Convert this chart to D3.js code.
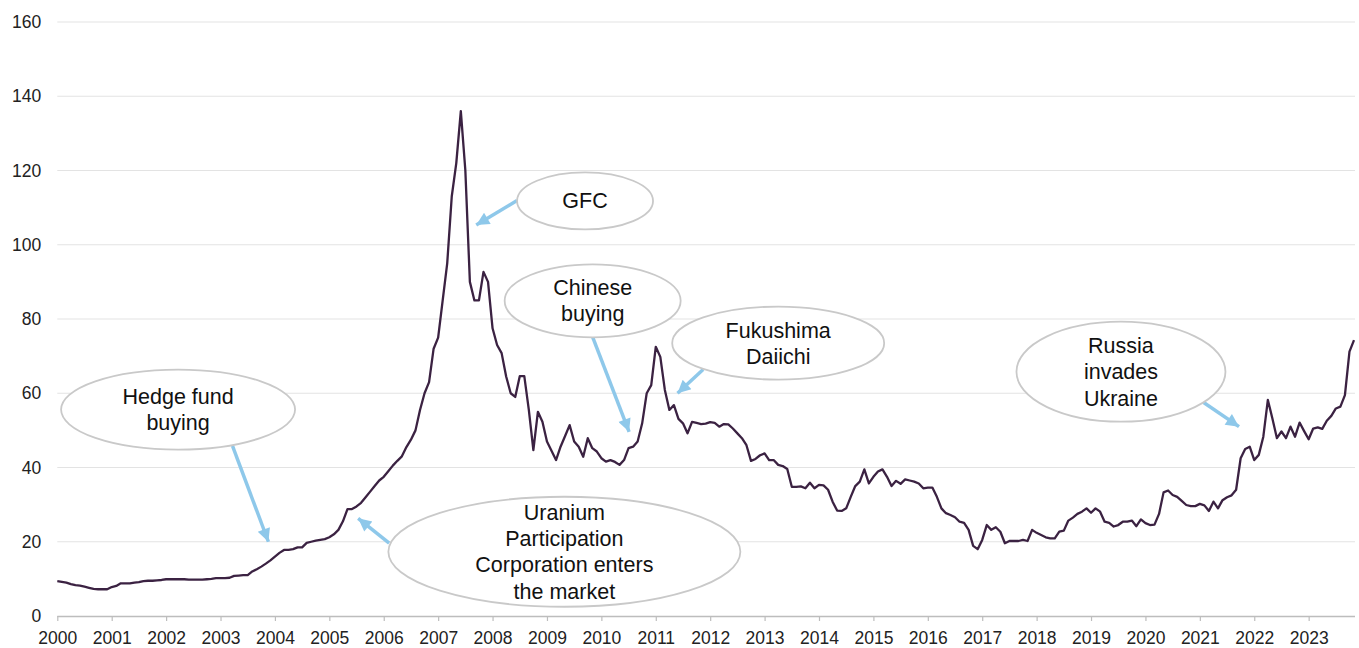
<!DOCTYPE html>
<html>
<head>
<meta charset="utf-8">
<script src="https://cdn.jsdelivr.net/npm/d3@7"></script>
<style>
  body { margin: 0; background: #fff; }
  svg text { font-family: "Liberation Sans", Arial, sans-serif; }
</style>
</head>
<body>
<svg id="chart" width="1359" height="648"></svg>
<script>
// monthly uranium spot price (US$/lb), Jan 2000 onwards
const startYear = 2000;
const prices = [
  9.4, 9.2, 9.0, 8.6, 8.3, 8.2, 7.9, 7.6, 7.3, 7.2, 7.2, 7.2,
  7.8, 8.1, 8.8, 8.8, 8.8, 9.0, 9.1, 9.4, 9.5, 9.5, 9.6, 9.7,
  9.9, 9.9, 9.9, 9.9, 9.9, 9.8, 9.8, 9.8, 9.8, 9.9, 10.0, 10.2,
  10.2, 10.2, 10.3, 10.8, 10.9, 11.0, 11.0, 12.0, 12.6, 13.3, 14.1, 15.0,
  16.0, 17.0, 17.8, 17.8, 18.0, 18.5, 18.5, 19.7, 20.0, 20.3, 20.5, 20.7,
  21.2, 22.0, 23.2, 25.5, 28.8, 28.8, 29.5, 30.5, 32.0, 33.5, 35.0, 36.5,
  37.5, 39.0, 40.5, 41.8, 43.0, 45.5, 47.5, 50.0, 55.5, 60.0, 63.0, 72.0,
  75, 85, 95, 113, 122, 136, 120, 90, 85, 85, 92.7, 90,
  77.5, 73, 70.8, 64.5, 60, 59, 64.6, 64.6, 55.5, 44.7, 55, 52.3,
  47, 44.5, 42, 45.6, 48.5, 51.4, 47, 45.6, 42.9, 47.9, 45.2, 44.3,
  42.5, 41.6, 42, 41.5, 40.7, 42, 45.2, 45.6, 47, 51.9, 60, 62.2,
  72.5, 69.8, 60.9, 55.5, 56.8, 53.1, 51.9, 49.2, 52.3, 52, 51.7, 51.8,
  52.2, 52, 51, 51.7, 51.6, 50.5, 49.2, 47.9, 46, 41.8, 42.3, 43.3,
  43.8, 42, 42, 40.7, 40.4, 39.6, 34.8, 34.8, 34.9, 34.4, 35.9, 34.4,
  35.3, 35.2, 34, 30.8, 28.4, 28.3, 29, 32.1, 35, 36.2, 39.5, 35.7,
  37.5, 38.9, 39.5, 37.5, 35, 36.4, 35.6, 36.8, 36.5, 36.2, 35.7, 34.4,
  34.6, 34.6, 32.1, 29, 27.7, 27.2, 26.6, 25.4, 25.1, 23.2, 18.9, 18.0,
  20.5, 24.5, 23.2, 23.9, 22.7, 19.6, 20.2, 20.2, 20.2, 20.5, 20.2, 23.2,
  22.4, 21.8, 21.2, 20.9, 20.9, 22.7, 23, 25.7, 26.5, 27.5, 28.1, 29,
  27.8, 29, 28.1, 25.4, 25.1, 24.1, 24.5, 25.4, 25.4, 25.7, 24.2, 26,
  25, 24.5, 24.6, 27.5, 33.3, 33.8, 32.6, 32.1, 31, 29.9, 29.6, 29.6,
  30.2, 29.8, 28.3, 30.8, 29, 31.2, 32, 32.5, 34, 42.5, 45, 45.6,
  42, 43.4, 48.3, 58.2, 53.2, 47.9, 49.7, 47.9, 51, 48.3, 52.1, 49.8,
  47.6, 50.5, 50.8, 50.4, 52.6, 53.9, 55.9, 56.4, 59.5, 71.2, 74.3
];
const yearTicks = d3.range(2000, 2024);
const valueTicks = [0, 20, 40, 60, 80, 100, 120, 140, 160];

// callouts: centre and arrow ends in data units (year, price)
const notes = [
  { lines: ["Hedge fund", "buying"], cx: 2002.22, cy: 55.6, rx: 117, ry: 40, from: [2003.22, 45.8], to: [2003.88, 20.0] },
  { lines: ["GFC"], cx: 2009.70, cy: 111.8, rx: 68, ry: 28.5, from: [2008.45, 111.9], to: [2007.70, 105.3] },
  { lines: ["Chinese", "buying"], cx: 2009.84, cy: 84.9, rx: 88, ry: 36.5, from: [2009.84, 75.1], to: [2010.51, 49.6] },
  { lines: ["Fukushima", "Daiichi"], cx: 2013.25, cy: 73.5, rx: 106, ry: 36.5, from: [2011.87, 66.4], to: [2011.40, 60.0] },
  { lines: ["Uranium", "Participation", "Corporation enters", "the market"], cx: 2009.32, cy: 17.3, rx: 176, ry: 55, from: [2006.10, 19.6], to: [2005.53, 26.3] },
  { lines: ["Russia", "invades", "Ukraine"], cx: 2019.55, cy: 65.8, rx: 104.5, ry: 50, from: [2021.07, 57.5], to: [2021.72, 51.0] }
];

const svg = d3.select("#chart");
const plotLeft = 57.3, plotRight = 1354, plotTop = 22, plotBottom = 616;

const x = d3.scaleLinear()
  .domain([startYear, startYear + (prices.length - 1) / 12])
  .range([plotLeft, plotRight]);
const y = d3.scaleLinear().domain([0, 160]).range([plotBottom, plotTop]);

// gridlines
svg.append("g")
  .selectAll("line")
  .data(valueTicks.filter(d => d > 0))
  .join("line")
  .attr("x1", plotLeft)
  .attr("x2", plotRight + 1)
  .attr("y1", d => y(d))
  .attr("y2", d => y(d))
  .attr("stroke", "#e3e3e3")
  .attr("stroke-width", 1);

// y labels
const yAxis = svg.append("g")
  .attr("transform", `translate(${plotLeft},0)`)
  .call(d3.axisLeft(y).tickValues(valueTicks).tickSize(0).tickPadding(16));
yAxis.select(".domain").remove();
yAxis.selectAll("text")
  .attr("font-size", 17.5)
  .attr("fill", "#222");

// x axis
const xAxis = svg.append("g")
  .attr("transform", `translate(0,${plotBottom})`)
  .call(d3.axisBottom(x).tickValues(yearTicks).tickFormat(d3.format("d"))
    .tickSizeInner(5).tickSizeOuter(0).tickPadding(10.5));
xAxis.select(".domain").attr("stroke", "#bdbdbd").attr("stroke-width", 1.5)
  .attr("d", `M${plotLeft},0.5H${plotRight + 1}`);
xAxis.selectAll(".tick line").attr("stroke", "#bdbdbd").attr("stroke-width", 1.2);
xAxis.selectAll("text")
  .attr("font-size", 17.5)
  .attr("fill", "#222");

// arrows
const defs = svg.append("defs");
defs.append("marker")
  .attr("id", "head")
  .attr("viewBox", "0 0 10 10")
  .attr("refX", 10)
  .attr("refY", 5)
  .attr("markerUnits", "userSpaceOnUse")
  .attr("markerWidth", 16)
  .attr("markerHeight", 13)
  .attr("orient", "auto")
  .append("path")
  .attr("d", "M0,0L10,5L0,10Z")
  .attr("fill", "#8ec8ea");

svg.append("g")
  .selectAll("line")
  .data(notes)
  .join("line")
  .attr("x1", d => x(d.from[0]))
  .attr("y1", d => y(d.from[1]))
  .attr("x2", d => x(d.to[0]))
  .attr("y2", d => y(d.to[1]))
  .attr("stroke", "#8ec8ea")
  .attr("stroke-width", 3.5)
  .attr("marker-end", "url(#head)");

// price line
const line = d3.line()
  .x((d, i) => x(startYear + i / 12))
  .y(d => y(d));

svg.append("path")
  .datum(prices)
  .attr("d", line)
  .attr("fill", "none")
  .attr("stroke", "#3b2242")
  .attr("stroke-width", 2.3)
  .attr("stroke-linejoin", "round");

// callout bubbles
const bubble = svg.append("g")
  .selectAll("g")
  .data(notes)
  .join("g")
  .attr("transform", d => `translate(${x(d.cx)},${y(d.cy)})`);

bubble.append("ellipse")
  .attr("rx", d => d.rx)
  .attr("ry", d => d.ry)
  .attr("fill", "#fff")
  .attr("stroke", "#c9c9c9")
  .attr("stroke-width", 1.8);

bubble.append("text")
  .attr("text-anchor", "middle")
  .attr("font-size", 21.5)
  .attr("fill", "#111")
  .selectAll("tspan")
  .data(d => d.lines.map((t, i) => ({ t, k: i - (d.lines.length - 1) / 2 })))
  .join("tspan")
  .attr("x", 0)
  .attr("y", d => d.k * 26.3)
  .attr("dy", "0.35em")
  .text(d => d.t);
</script>
</body>
</html>
